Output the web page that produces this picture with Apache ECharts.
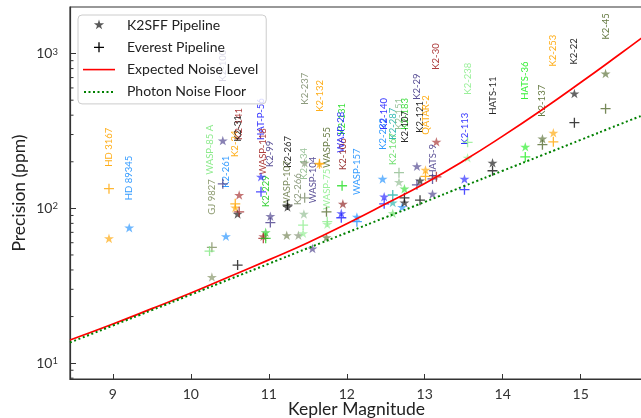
<!DOCTYPE html>
<html><head><meta charset="utf-8">
<script src="https://cdn.jsdelivr.net/npm/echarts@6/dist/echarts.min.js"></script>
<style>html,body{margin:0;padding:0;background:#fff}#c{width:641px;height:418px}</style>
</head><body><div id="c"></div>
<script>
// ---------- data ----------
const NAMES = ['HD 3167','HD 89345','GJ 9827','WASP-85 A','K2-100','K2-261','K2-34','K2-141','K2-31','HAT-P-56',
  'WASP-118','K2-229','K2-99','K2-267','WASP-107','K2-266','K2-134','','K2-237','WASP-104',
  'K2-132','WASP-55','WASP-75','K2-131','K2-106','WASP-28','WASP-157','K2-232','K2-140','K2-287',
  'K2-167','','K2-151','K2-183','K2-107','K2-29','K2-121','QATAR-2','HATS-9','K2-30',
  'K2-113','K2-238','HATS-11','HATS-36','K2-137','K2-253','K2-22','K2-45'];
const KP = [8.95,9.21,10.27,10.24,10.41,10.45,10.57,10.62,10.60,10.90,
  10.93,10.96,11.02,11.24,11.23,11.38,11.45,11.44,11.46,11.56,
  11.65,11.74,11.75,11.94,11.95,11.93,12.13,12.46,12.48,12.59,
  12.59,12.71,12.67,12.74,12.74,12.90,12.94,13.01,13.10,13.15,
  13.51,13.55,13.87,14.29,14.51,14.65,14.92,15.32];
const K2SFF = [64,75,36,null,274,66,101,122,92,160,
  66,70,89,102,67,67,92,69,197,55,
  194,65,79,null,107,93,88,155,119,109,
  93,102,148,134,109,187,151,177,124,269,
  155,212,197,250,282,308,552,743];
const EVEREST = [134,null,56,53,144,null,107,95,43,128,
  64,64,81,105,null,null,null,78,117,null,
  194,95,82,140,null,87,82,null,107,122,
  null,null,170,null,117,142,113,161,155,160,
  132,267,175,215,258,269,358,441];
const LABEL_Y = [186,113,91,165,659,136,215,277,270,277,
  165,102,185,183,102,105,153,null,468,108,
  421,182,98,299,177,229,122,239,322,278,
  191,null,322,322,265,503,308,299,160,787,
  258,543,403,503,391,824,849,1233];
const COLORS = ['#ffa500','#1e90ff','#7f8f5f','#80e880','#483d8b','#1e90ff','#ffa500','#a52a2a','#111111','#2020ff',
  '#a52a2a','#22cc22','#483d8b','#111111','#6f7f4f','#7f8f6f','#8fbc8f','#90ee90','#7f8f6f','#483d8b',
  '#ffa500','#556b2f','#90ee90','#22dd22','#8b1a1a','#2020ff','#1e90ff','#1e90ff','#2020ff','#20b2aa',
  '#66dd66','#1e90ff','#8fbc8f','#33dd33','#111111','#483d8b','#111111','#ffa500','#483d8b','#a52a2a',
  '#2020ff','#90ee90','#111111','#22ee22','#556b2f','#ffa500','#111111','#556b2f'];
const CURVE_KP = [8.45,9,9.5,10,10.5,11,11.5,12,12.5,13,13.5,14,14.5,15,15.5,15.8];
const EXPECTED = [14.1,17.9,22.5,28.4,36.3,46.5,60,79.5,107,145,203,293,432,650,990,1280];
const PHOTON =   [13.6,17.5,22,27.7,34.9,43.9,55.3,69.6,87.6,110,139,175,220,277,349,400];
const X_MIN = 8.45, X_MAX = 15.8, Y_MIN = 7.9, Y_MAX = 2000;
const Y_MINOR = [8,9,20,30,40,50,60,70,80,90,200,300,400,500,600,700,800,900];

// ---------- chart ----------
const FONT = 'Lato, "DejaVu Sans", sans-serif';
const STAR_SHAPE = 'M0,-1L0.2245,-0.309L0.951,-0.309L0.363,0.118L0.588,0.809L0,0.382L-0.588,0.809L-0.363,0.118L-0.951,-0.309L-0.2245,-0.309Z';
const PLUS_SHAPE = 'M-0.13,-1L0.13,-1L0.13,-0.13L1,-0.13L1,0.13L0.13,0.13L0.13,1L-0.13,1L-0.13,0.13L-1,0.13L-1,-0.13L-0.13,-0.13Z';
const STAR = 'path://' + STAR_SHAPE;
const PLUS = 'path://' + PLUS_SHAPE;
// legend icons: same shapes inside a 32x14 box
const STAR_ICON = 'path://M-2.96,-1.3M2.96,1.3' + STAR_SHAPE;
const PLUS_ICON = 'path://M-3.2,-1.4M3.2,1.4' + PLUS_SHAPE;
const LINE_ICON = 'path://M0,0M32,14M0,6.2L32,6.2L32,7.8L0,7.8Z';
const DOT_ICON = 'path://M0,0M32,14M1,6h2v2h-2zM5.5,6h2v2h-2zM10,6h2v2h-2zM14.5,6h2v2h-2zM19,6h2v2h-2zM23.5,6h2v2h-2zM28,6h2v2h-2z';

const starData = [], plusData = [], labelData = [];
NAMES.forEach((n, i) => {
  if (K2SFF[i] != null) starData.push({value: [KP[i], K2SFF[i]], itemStyle: {color: COLORS[i], opacity: 0.65}});
  if (EVEREST[i] != null) plusData.push({value: [KP[i], EVEREST[i]], itemStyle: {color: COLORS[i]}});
  if (LABEL_Y[i] != null && n) labelData.push({name: n, value: [KP[i], LABEL_Y[i]], label: {color: COLORS[i]}});
});

const chart = echarts.init(document.getElementById('c'), null, {renderer: 'canvas'});
chart.setOption({
  animation: false,
  textStyle: {fontFamily: FONT},
  grid: {left: 70, top: 7, width: 573, height: 372, show: true, borderColor: '#333', borderWidth: 1.2,
    containLabel: false, outerBoundsMode: 'none'},
  legend: {
    orient: 'vertical', left: 78, top: 15, padding: [3, 8, 5, 5], itemWidth: 32, itemHeight: 14, itemGap: 8.3,
    backgroundColor: 'rgba(255,255,255,0.8)', borderColor: '#cccccc', borderWidth: 1, borderRadius: 4,
    textStyle: {fontFamily: FONT, fontSize: 14, color: '#222', lineHeight: 14, padding: [0, 0, 0, 7]},
    data: [
      {name: 'K2SFF Pipeline', icon: STAR_ICON},
      {name: 'Everest Pipeline', icon: PLUS_ICON, itemStyle: {color: '#000', opacity: 1}},
      {name: 'Expected Noise Level', icon: LINE_ICON},
      {name: 'Photon Noise Floor', icon: DOT_ICON}
    ]
  },
  xAxis: {
    type: 'value', min: X_MIN, max: X_MAX, splitNumber: 7,
    name: 'Kepler Magnitude', nameLocation: 'middle', nameGap: 21, nameMoveOverlap: false,
    nameTextStyle: {fontFamily: FONT, fontSize: 17.5, lineHeight: 18, color: '#222'},
    axisLine: {lineStyle: {color: '#333', width: 1.2}},
    axisTick: {inside: true, length: 5, lineStyle: {color: '#333'}},
    axisLabel: {showMinLabel: false, showMaxLabel: false, fontFamily: FONT, fontSize: 14, color: '#333', margin: 8},
    splitLine: {show: false}
  },
  yAxis: {
    type: 'log', logBase: 10, min: Y_MIN, max: Y_MAX,
    name: 'Precision (ppm)', nameLocation: 'middle', nameGap: 42, nameMoveOverlap: false,
    nameTextStyle: {fontFamily: FONT, fontSize: 17.5, color: '#222'},
    axisLine: {lineStyle: {color: '#333', width: 1.2}},
    axisTick: {inside: true, length: 6, lineStyle: {color: '#333'}},
    axisLabel: {
      showMinLabel: false, showMaxLabel: false, fontFamily: FONT, fontSize: 14, lineHeight: 14, color: '#333', margin: 12,
      formatter: v => {
        const e = Math.round(Math.log10(v));
        if (Math.abs(Math.pow(10, e) - v) > 1e-6 * v) return '';
        return '10{s|' + e + '}';
      },
      rich: {s: {fontSize: 9.5, lineHeight: 9, fontFamily: FONT, color: '#333', verticalAlign: 'top'}}
    },
    splitLine: {show: false}
  },
  series: [
    {
      name: 'K2SFF Pipeline', type: 'scatter', symbol: STAR, symbolSize: 10, symbolKeepAspect: true,
      itemStyle: {color: '#000', opacity: 0.65}, data: starData, z: 3
    },
    {
      name: 'Everest Pipeline', type: 'scatter', symbol: PLUS, symbolSize: 10, symbolKeepAspect: true,
      itemStyle: {color: '#000'}, data: plusData, z: 3
    },
    {
      name: 'labels', type: 'scatter', symbol: 'circle', symbolSize: 1, silent: true,
      itemStyle: {color: 'transparent'}, data: labelData, z: 2,
      label: {show: true, formatter: p => p.name, rotate: 90, position: 'inside', align: 'left', verticalAlign: 'middle',
        fontFamily: FONT, fontSize: 9.5, opacity: 0.9}
    },
    {
      name: 'Expected Noise Level', type: 'line', smooth: true, symbol: 'none',
      data: CURVE_KP.map((k, i) => [k, EXPECTED[i]]), lineStyle: {color: '#ff0000', width: 1.7}, itemStyle: {color: '#ff0000'}, z: 4
    },
    {
      name: 'Photon Noise Floor', type: 'line', smooth: true, symbol: 'none',
      data: CURVE_KP.map((k, i) => [k, PHOTON[i]]), lineStyle: {color: '#008000', width: 2, type: [2, 2.6]}, itemStyle: {color: '#008000'}, z: 4
    },
    {
      name: 'minor', type: 'custom', silent: true, clip: false, z: 5,
      data: Y_MINOR.map(v => [X_MIN, v]),
      renderItem: (params, api) => {
        const p = api.coord([api.value(0), api.value(1)]);
        return {type: 'line', shape: {x1: p[0], y1: p[1], x2: p[0] + 3.5, y2: p[1]}, style: {stroke: '#333', lineWidth: 1}};
      }
    }
  ]
});
</script></body></html>
